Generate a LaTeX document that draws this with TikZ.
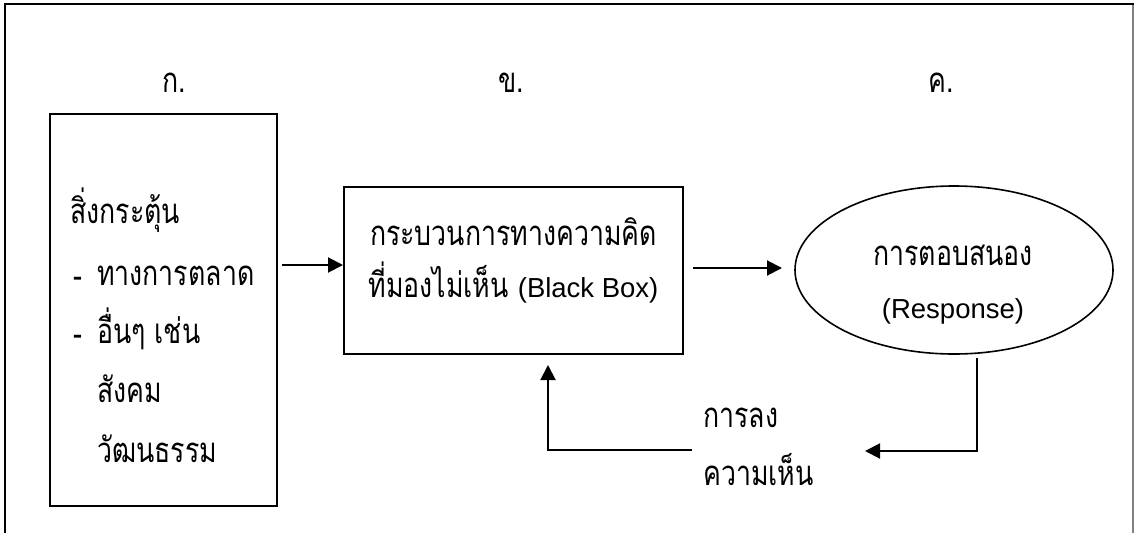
\documentclass[tikz,border=0pt]{standalone}
\usepackage{graphicx}
\usepackage{fontspec}
\setmainfont{Liberation Sans}
\newfontfamily\thaifont[Script=Thai]{Loma}
\newcommand\tallthai[1]{\scalebox{1}[1.3]{#1}}
\usetikzlibrary{shapes.geometric,arrows.meta}
\begin{document}
\begin{tikzpicture}[x=1pt,y=-1pt,
  blockbox/.style={draw,line width=2pt,inner sep=0pt},
  thaitext/.style={inner sep=0pt,font=\fontsize{26.7}{32}\selectfont\thaifont},
  latintext/.style={inner sep=0pt,font=\fontsize{27.5}{33}\selectfont},
  flow/.style={line width=2pt,-{Triangle[length=15pt,width=15pt]}}
]
\useasboundingbox (0,0) rectangle (1134,533);
\fill[white] (0,0) rectangle (1134,533);

% outer frame, open at the bottom
\draw[gray,line width=1.2pt] (1133,4) -- (1133,533);
\draw[line width=2.5pt] (5,533) -- (5,4) -- (1134,4);

% column labels
\node[thaitext,anchor=base] (labA) at (174,92) {\tallthai{ก.}};
\node[thaitext,anchor=base] (labB) at (511,92) {\tallthai{ข.}};
\node[thaitext,anchor=base] (labC) at (941,92) {\tallthai{ค.}};

% blocks
\node[blockbox,minimum width=227pt,minimum height=392pt] (stim) at (163.5,310) {};
\node[blockbox,minimum width=339pt,minimum height=167pt] (proc) at (513.5,270.5) {};
\node[draw,ellipse,line width=1.6pt,inner sep=0pt,minimum width=318pt,minimum height=168pt] (resp) at (954,270) {};

% stimulus list
\node[thaitext,anchor=base west] (s0) at (70,223) {\tallthai{สิ่งกระตุ้น}};
\node[thaitext,anchor=base west] (s1) at (73,285) {\makebox[24pt][l]{\bfseries -}\tallthai{ทางการตลาด}};
\node[thaitext,anchor=base west] (s2) at (73,343) {\makebox[24pt][l]{\bfseries -}\tallthai{อื่นๆ เช่น}};
\node[thaitext,anchor=base west] (s3) at (97,402) {\tallthai{สังคม}};
\node[thaitext,anchor=base west] (s4) at (97,462) {\tallthai{วัฒนธรรม}};

% black box text
\node[thaitext,anchor=base] (p0) at (513.5,245) {\tallthai{กระบวนการทางความคิด}};
\node[thaitext,anchor=base] (p1) at (513.5,297) {\tallthai{ที่มองไม่เห็น} {\fontsize{27.5}{33}\selectfont\rmfamily (Black Box)}};

% response text
\node[thaitext,anchor=base] (r0) at (953,265) {\tallthai{การตอบสนอง}};
\node[latintext,anchor=base] (r1) at (953,318) {(Response)};

% feedback text
\node[thaitext,anchor=base west] (f0) at (703,427) {\tallthai{การลง}};
\node[thaitext,anchor=base west] (f1) at (703,485) {\tallthai{ความเห็น}};

% connectors
\coordinate (a0) at (282,265);
\draw[flow] (a0) -- (a0 -| proc.west);
\coordinate (b0) at (693,268);
\coordinate (b1) at (782,268);
\draw[flow] (b0) -- (b1);
\coordinate (c0) at (977,358);
\coordinate (c1) at (865,451);
\draw[flow] (c0) |- (c1);
\coordinate (d0) at (692,450);
\coordinate (d1) at (548,365);
\draw[flow] (d0) -| (d1);
\end{tikzpicture}
\end{document}
